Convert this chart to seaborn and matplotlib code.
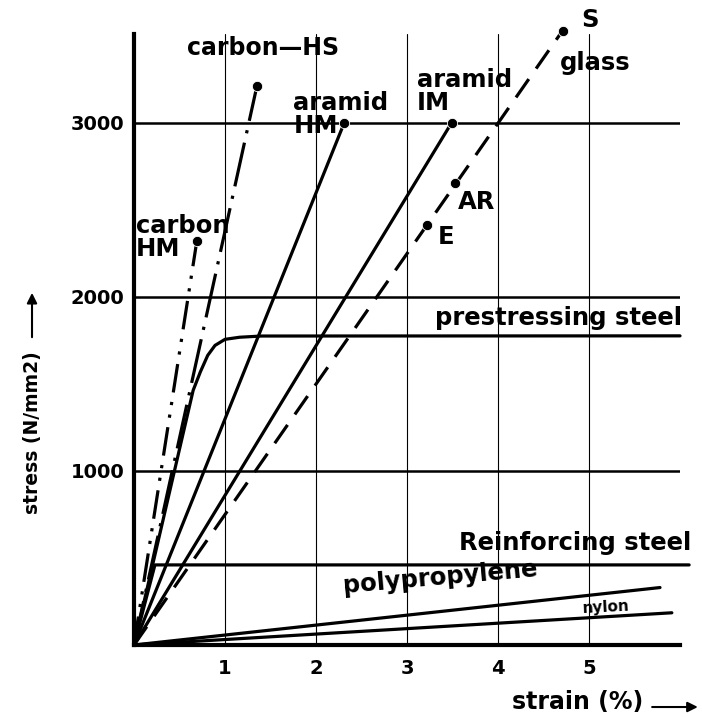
import pandas as pd
import numpy as np
import matplotlib.pyplot as plt
import seaborn as sns

# Style setup
sns.set_style("white")
plt.rcParams['font.family'] = ['DejaVu Sans']
plt.rcParams['font.weight'] = 'bold'
plt.rcParams['text.color'] = 'black'
plt.rcParams['xtick.color'] = 'black'
plt.rcParams['ytick.color'] = 'black'

# Values (strain in %, stress in N/mm2)
carbon_hs_strain = [0, 1.35]
carbon_hs_stress = [0, 3210]
carbon_hm_strain = [0, 0.69]
carbon_hm_stress = [0, 2320]
aramid_hm_strain = [0, 2.31]
aramid_hm_stress = [0, 3000]
aramid_im_strain = [0, 3.49]
aramid_im_stress = [0, 3000]
glass_strain = [0, 4.71]
glass_stress = [0, 3530]
prestress_strain = [0, 0.65, 0.73, 0.81, 0.89, 1.00, 1.16, 1.40, 6.0]
prestress_stress = [0, 1463, 1570, 1664, 1721, 1756, 1768, 1775, 1776]
reinforcing_strain = [0, 0.23, 6.1]
reinforcing_stress = [0, 460, 460]
polyprop_strain = [0, 5.78]
polyprop_stress = [0, 330]
nylon_strain = [0, 5.91]
nylon_stress = [0, 185]

# End points (fibre failure) marked with a dot
end_strain = [1.35, 0.69, 2.31, 3.49, 3.22, 3.53, 4.71]
end_stress = [3210, 2320, 3000, 3000, 2415, 2655, 3530]

x_ticks = [1, 2, 3, 4, 5]
y_ticks = [1000, 2000, 3000]

curves = {
    'carbon HS': (carbon_hs_strain, carbon_hs_stress),
    'carbon HM': (carbon_hm_strain, carbon_hm_stress),
    'aramid HM': (aramid_hm_strain, aramid_hm_stress),
    'aramid IM': (aramid_im_strain, aramid_im_stress),
    'glass': (glass_strain, glass_stress),
    'prestressing steel': (prestress_strain, prestress_stress),
    'reinforcing steel': (reinforcing_strain, reinforcing_stress),
    'polypropylene': (polyprop_strain, polyprop_stress),
    'nylon': (nylon_strain, nylon_stress),
}

rows = []
for name, (xs, ys) in curves.items():
    for x, y in zip(xs, ys):
        rows.append({'material': name, 'strain': x, 'stress': y})
df = pd.DataFrame(rows)

dash_styles = {
    'carbon HS': (14, 3, 1, 3),
    'carbon HM': (9, 3, 1, 3, 1, 3),
    'aramid HM': '',
    'aramid IM': '',
    'glass': (7, 4),
    'prestressing steel': '',
    'reinforcing steel': '',
    'polypropylene': '',
    'nylon': '',
}
colors = {name: 'black' for name in curves}

fig = plt.figure(figsize=(7.02, 7.18), dpi=100)
ax = fig.add_axes([0.1909, 0.1017, 0.7778, 0.8509])

sns.lineplot(data=df, x='strain', y='stress', hue='material', style='material',
             palette=colors, dashes=dash_styles, estimator=None, sort=False,
             legend=False, lw=2.3, ax=ax)
for line in ax.lines:
    line.set_clip_on(False)

sns.scatterplot(x=end_strain, y=end_stress, color='black', s=55, zorder=5,
                clip_on=False, ax=ax)

# Axes, grid
ax.set_xlim(0, 6)
ax.set_ylim(0, 3510)
ax.set_xticks(x_ticks)
ax.set_yticks(y_ticks)
ax.set_axisbelow(True)
ax.grid(axis='y', color='black', lw=1.8)
ax.grid(axis='x', color='black', lw=0.8)
for side in ['top', 'right']:
    ax.spines[side].set_visible(False)
for side in ['left', 'bottom']:
    ax.spines[side].set_linewidth(3)
    ax.spines[side].set_color('black')
ax.tick_params(axis='both', length=0, labelsize=14)
ax.tick_params(axis='x', pad=10)
ax.tick_params(axis='y', pad=7)
ax.set_xlabel('')
ax.set_ylabel('')

# Curve labels
fs = 17.5
ax.text(0.58, 3431, 'carbon—HS', fontsize=17, ha='left', va='center')
ax.text(0.02, 2339, 'carbon\nHM', fontsize=fs, ha='left', va='center', linespacing=0.95)
ax.text(1.75, 3046, 'aramid\nHM', fontsize=fs, ha='left', va='center', linespacing=0.95)
ax.text(3.11, 3178, 'aramid\nIM', fontsize=fs, ha='left', va='center', linespacing=0.95)
ax.text(5.01, 3592, 'S', fontsize=fs, ha='center', va='center')
ax.text(5.07, 3345, 'glass', fontsize=fs, ha='center', va='center')
ax.text(3.76, 2546, 'AR', fontsize=fs, ha='center', va='center')
ax.text(3.43, 2345, 'E', fontsize=fs, ha='center', va='center')
ax.text(4.67, 1879, 'prestressing steel', fontsize=fs, ha='center', va='center')
ax.text(4.85, 586, 'Reinforcing steel', fontsize=fs, ha='center', va='center')
ax.text(3.37, 385, 'polypropylene', fontsize=fs, ha='center', va='center', rotation=5)
ax.text(5.19, 218, 'nylon', fontsize=11, ha='center', va='center', rotation=3)

# Axis titles with arrows
fig.text(0.8234, 0.0223, 'strain (%)', fontsize=17, ha='center', va='center')
ax.annotate('', xy=(0.998, 0.0153), xycoords='figure fraction',
            xytext=(0.925, 0.0153), textcoords='figure fraction',
            arrowprops=dict(arrowstyle='-|>', color='black', lw=1.5, mutation_scale=15))
fig.text(0.0456, 0.397, 'stress (N/mm2)', fontsize=13.5, ha='center', va='center', rotation=90)
ax.annotate('', xy=(0.0456, 0.596), xycoords='figure fraction',
            xytext=(0.0456, 0.5265), textcoords='figure fraction',
            arrowprops=dict(arrowstyle='-|>', color='black', lw=1.5, mutation_scale=15))

plt.savefig('out.png', dpi=100)
